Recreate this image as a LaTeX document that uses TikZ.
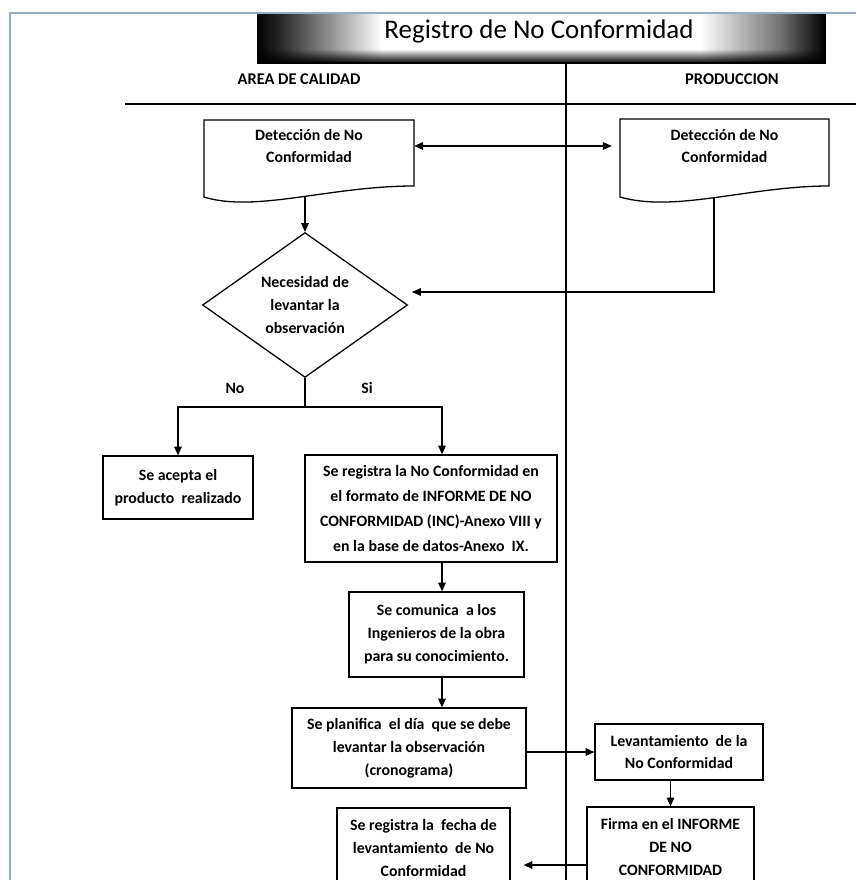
\documentclass[tikz,border=0pt]{standalone}
\usepackage{fontspec}
\setmainfont{Carlito}
\usetikzlibrary{arrows.meta,shapes.geometric,calc,fadings}
\definecolor{framecol}{RGB}{150,172,200}
% TikZ maps a path's bounding box onto 25bp..75bp of a shading
\pgfdeclarehorizontalshading{bannershade}{100bp}{color(0bp)=(black); color(25bp)=(black); color(27bp)=(black!85); color(36bp)=(white); color(64bp)=(white); color(71bp)=(black!55); color(75bp)=(black); color(100bp)=(black)}
\begin{document}
\begin{tikzpicture}[x=0.03cm,y=-0.03cm,
  lane/.style={line width=1.8pt,black},
  conn/.style={line width=1pt,black},
  arr/.style={conn,-{Triangle[length=7.5pt,width=6.5pt]}},
  dbl/.style={conn,{Triangle[length=7.5pt,width=6.5pt]}-{Triangle[length=7.5pt,width=6.5pt]}},
  boxline/.style={line width=1.1pt,black},
  txt/.style={font=\bfseries\fontsize{13.5}{19.5}\selectfont,align=center,inner sep=0pt},
  procbox/.style={txt,draw,boxline},
  hdr/.style={font=\bfseries\fontsize{14}{16}\selectfont,inner sep=0pt}]
\useasboundingbox (0,0) rectangle (856,880);
\clip (0,0) rectangle (856,880);

% title banner
\shade[shading=bannershade] (257,13) rectangle (825,63);
\fill[black,path fading=north] (257,49) rectangle (825,63);
\draw[line width=1.6pt] (257,63) -- (825,63) -- (825,13);
\node[font=\fontsize{23}{27}\selectfont,anchor=base,inner sep=0pt] (title) at (539,39) {Registro de No Conformidad};

% page frame
\draw[framecol,line width=1.3pt] (10,880) -- (10,13) -- (856,13);

% swimlanes
\draw[lane] (566,63) -- (566,880);
\draw[lane] (125,104) -- (856,104);
\node[hdr] (hcal) at (299,79) {AREA DE CALIDAD};
\node[hdr] (hprod) at (732,79) {PRODUCCION};

% document shapes
\draw[boxline] (204,120) -- (414,120) -- (414,186) .. controls (330,186) and (255,213) .. (204,197) -- cycle;
\draw[boxline] (620,119) -- (829,119) -- (829,186) .. controls (750,186) and (675,213) .. (620,197) -- cycle;
\node[txt,minimum width=6.3cm,minimum height=1.2cm] (ldoc) at (309,146) {Detección de No\\Conformidad};
\node[txt,minimum width=6.27cm,minimum height=1.2cm] (rdoc) at (724.5,146) {Detección de No\\Conformidad};
\coordinate (ldocb) at (305,196);
\coordinate (rdocb) at (714,197.5);

% decision
\node[txt,draw,boxline,diamond,minimum width=6.15cm,minimum height=4.32cm,inner sep=0pt] (dia) at (305,305) {Necesidad de\\levantar la\\observación};
\node[txt] (lno) at (235,388) {No};
\node[txt] (lsi) at (367,388) {Si};

% process boxes
\node[procbox,minimum width=4.5cm,minimum height=1.89cm] (acc) at (178,487.5) {Se acepta el\\producto\ \ realizado};
\node[procbox,minimum width=7.56cm,minimum height=3.21cm,font=\bfseries\fontsize{13.5}{21.5}\selectfont] (reg) at (431,508.5) {Se registra la No Conformidad en\\el formato de INFORME DE NO\\CONFORMIDAD (INC)-Anexo VIII y\\en la base de datos-Anexo\ \ IX.};
\node[procbox,minimum width=5.25cm,minimum height=2.55cm] (com) at (436.5,634.5) {Se comunica\ \ a los\\Ingenieros de la obra\\para su conocimiento.};
\node[procbox,minimum width=7.02cm,minimum height=2.4cm] (plan) at (409,748) {Se planifica\ \ el día\ \ que se debe\\levantar la observación\\(cronograma)};
\node[procbox,minimum width=5.04cm,minimum height=1.68cm] (lev) at (679,752) {Levantamiento\ \ de la\\No Conformidad};
\node[procbox,minimum width=5.01cm,minimum height=2.4cm] (firma) at (670.5,847) {Firma en el INFORME\\DE NO\\CONFORMIDAD};
\node[procbox,minimum width=5.19cm,minimum height=2.4cm] (fecha) at (423.5,848) {Se registra la\ \ fecha de\\levantamiento\ \ de No\\Conformidad};

% connectors
\coordinate (spine) at (442,0);
\coordinate (split) at (305,407);
\coordinate (dtip) at (412,292);
\coordinate (ay) at (0,865);
\draw[dbl] (ldoc.east) -- ($(rdoc.west)+(-8,0)$);
\draw[arr] (ldocb) -- (dia.north);
\draw[arr] (rdocb) |- (dtip);
\draw[conn] (dia.south) -- (split);
\draw[arr] (split) -| (acc.north);
\draw[arr] (split) -| (reg.north -| spine);
\draw[arr] (reg.south -| spine) -- (com.north -| spine);
\draw[arr] (com.south -| spine) -- (plan.north -| spine);
\draw[arr] (plan.east |- lev.west) -- (lev.west);
\draw[arr] (lev.south -| firma.north) -- (firma.north);
\draw[arr] (firma.west |- ay) -- ($(fecha.east |- ay)+(13,0)$);
\end{tikzpicture}
\end{document}
